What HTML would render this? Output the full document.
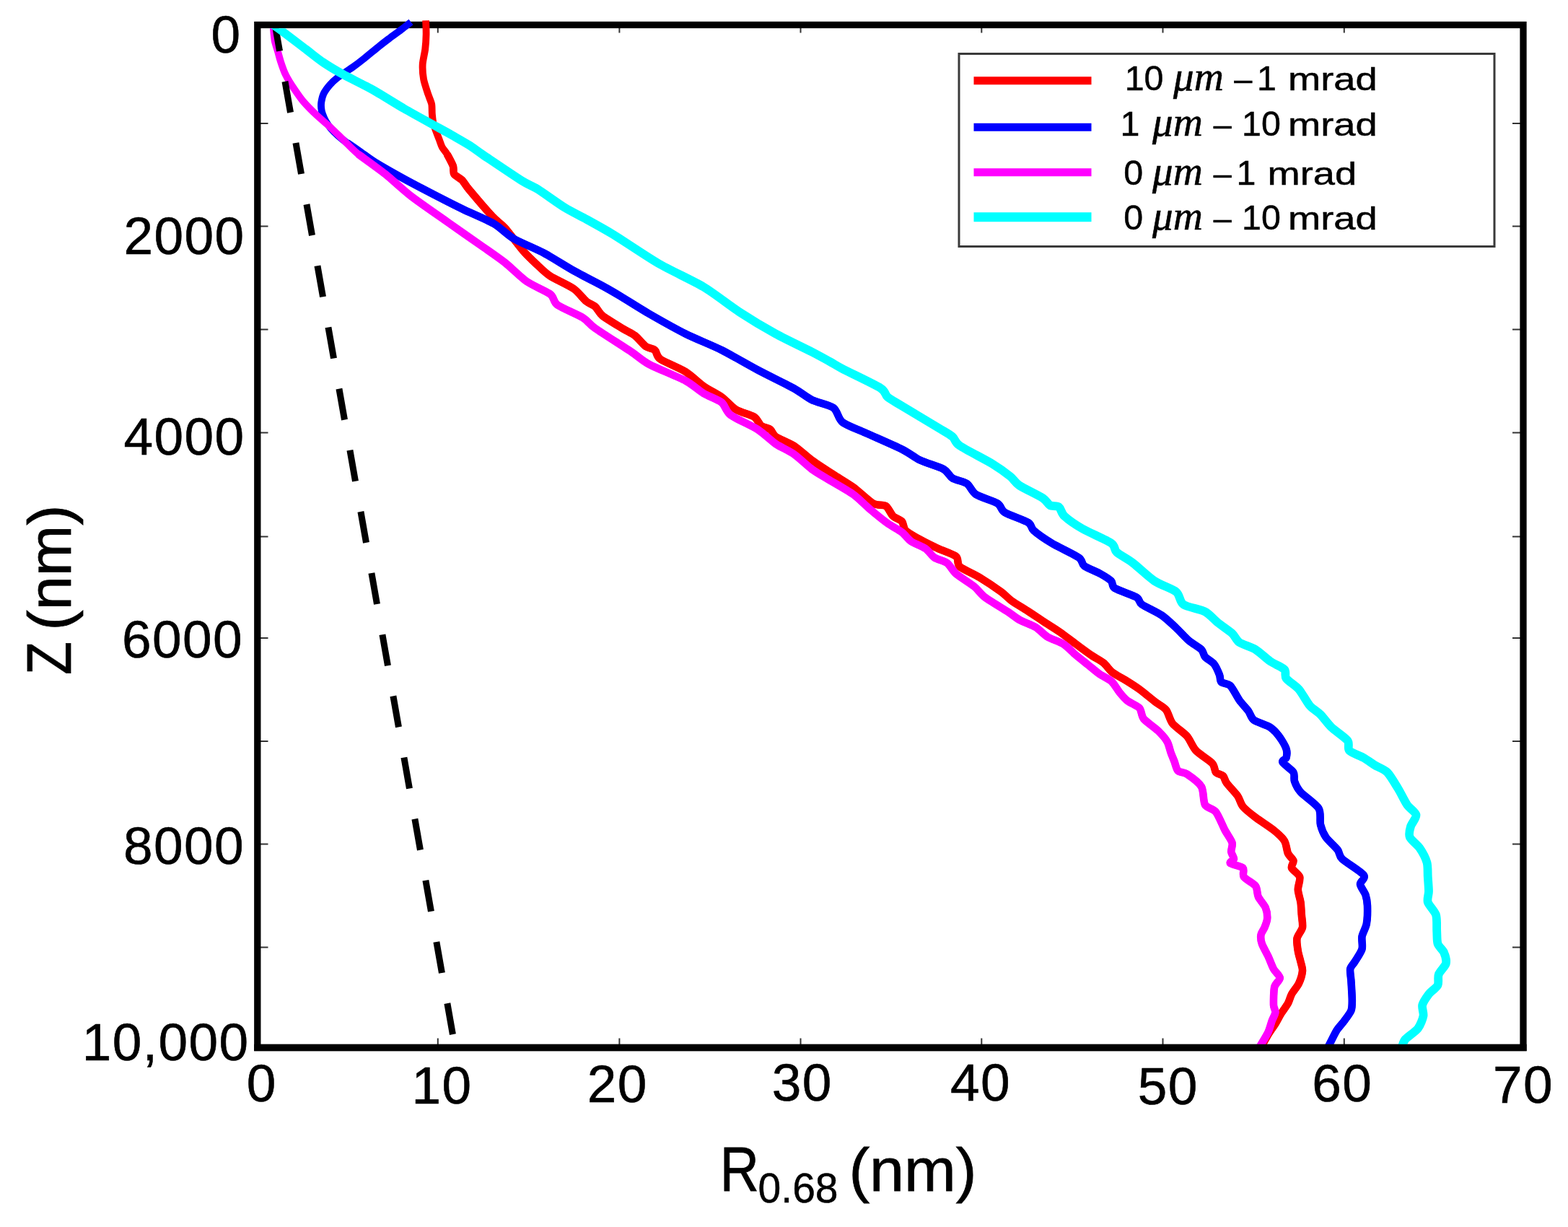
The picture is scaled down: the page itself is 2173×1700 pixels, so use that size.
<!DOCTYPE html>
<html lang="en">
<head>
<meta charset="utf-8">
<title>R0.68 versus Z</title>
<style>
html,body{margin:0;padding:0;background:#fff;}
body{width:2173px;height:1700px;overflow:hidden;}
svg{display:block;filter:blur(0.6px);}
text{font-family:"Liberation Sans",sans-serif;fill:#000;}
.tick{font-size:73px;letter-spacing:1.4px;stroke:#000;stroke-width:0.6px;}
.leg{font-size:48.4px;stroke:#000;stroke-width:0.5px;}
.mr{font-size:45px;stroke:#000;stroke-width:0.5px;}
.it{font-family:"Liberation Serif","DejaVu Serif",serif;font-style:italic;font-size:57px;stroke:#000;stroke-width:0.6px;}
.ttl{font-size:84px;stroke:#000;stroke-width:0.8px;}
.cap{font-size:87.5px;stroke:#000;stroke-width:0.8px;}
.sub{font-size:57px;stroke:#000;stroke-width:0.5px;}
.c{fill:none;stroke-linejoin:round;stroke-linecap:butt;}
</style>
</head>
<body>
<svg width="2173" height="1700" viewBox="0 0 2173 1700">
<rect x="0" y="0" width="2173" height="1700" fill="#ffffff"/>

<g stroke="#333" stroke-width="2" fill="none">
<line x1="361" y1="171" x2="371.5" y2="171"/>
<line x1="2096" y1="171" x2="2107" y2="171"/>
<line x1="361" y1="313.5" x2="371.5" y2="313.5"/>
<line x1="2096" y1="313.5" x2="2107" y2="313.5"/>
<line x1="361" y1="456.5" x2="371.5" y2="456.5"/>
<line x1="2096" y1="456.5" x2="2107" y2="456.5"/>
<line x1="361" y1="599.5" x2="371.5" y2="599.5"/>
<line x1="2096" y1="599.5" x2="2107" y2="599.5"/>
<line x1="361" y1="743.5" x2="371.5" y2="743.5"/>
<line x1="2096" y1="743.5" x2="2107" y2="743.5"/>
<line x1="361" y1="884" x2="371.5" y2="884"/>
<line x1="2096" y1="884" x2="2107" y2="884"/>
<line x1="361" y1="1027" x2="371.5" y2="1027"/>
<line x1="2096" y1="1027" x2="2107" y2="1027"/>
<line x1="361" y1="1169.5" x2="371.5" y2="1169.5"/>
<line x1="2096" y1="1169.5" x2="2107" y2="1169.5"/>
<line x1="361" y1="1312.5" x2="371.5" y2="1312.5"/>
<line x1="2096" y1="1312.5" x2="2107" y2="1312.5"/>
<line x1="606.8" y1="38" x2="606.8" y2="45.5"/>
<line x1="606.8" y1="1438.5" x2="606.8" y2="1447"/>
<line x1="858.4" y1="38" x2="858.4" y2="45.5"/>
<line x1="858.4" y1="1438.5" x2="858.4" y2="1447"/>
<line x1="1109.5" y1="38" x2="1109.5" y2="45.5"/>
<line x1="1109.5" y1="1438.5" x2="1109.5" y2="1447"/>
<line x1="1360.3" y1="38" x2="1360.3" y2="45.5"/>
<line x1="1360.3" y1="1438.5" x2="1360.3" y2="1447"/>
<line x1="1611.5" y1="38" x2="1611.5" y2="45.5"/>
<line x1="1611.5" y1="1438.5" x2="1611.5" y2="1447"/>
<line x1="1862.8" y1="38" x2="1862.8" y2="45.5"/>
<line x1="1862.8" y1="1438.5" x2="1862.8" y2="1447"/>
</g>
<clipPath id="cp"><rect x="357" y="25.5" width="1754" height="1426"/></clipPath>
<clipPath id="cp2"><rect x="357" y="39.2" width="1754" height="1412"/></clipPath>
<rect x="356.8" y="34.5" width="1754.2" height="1417" fill="none" stroke="#000" stroke-width="9.3"/>
<g clip-path="url(#cp)"><path class="c" stroke="#ff0000" stroke-width="9.8" d="M590.1 28.4C590.2 31.0 590.7 42.3 590.6 47.6C590.5 52.9 589.9 62.9 589.2 68.4C588.5 73.9 586.0 83.6 585.7 89.1C585.4 94.6 586.1 104.4 587.1 109.9C588.1 115.4 591.8 126.0 593.3 130.6C594.8 135.2 597.5 140.7 598.2 144.4C598.9 148.1 598.5 154.6 598.9 158.3C599.3 162.0 599.6 167.5 600.9 172.1C602.2 176.7 606.9 188.6 608.5 192.8C610.1 197.0 611.2 201.1 612.7 203.9C614.2 206.7 617.6 210.1 619.6 213.6C621.6 217.1 626.6 226.4 627.9 230.1C629.2 233.8 627.6 238.6 629.3 241.2C631.0 243.8 637.5 246.7 640.3 249.5C643.1 252.3 644.4 255.8 650.0 262.5C655.6 269.2 675.8 292.9 682.5 300.0C689.2 307.1 694.3 309.7 700.0 316.0C705.7 322.3 719.0 340.6 725.0 347.5C731.0 354.4 740.0 362.8 745.0 367.5C750.0 372.2 755.8 378.2 762.5 382.5C769.2 386.8 788.3 395.3 795.0 400.0C801.7 404.7 808.5 414.2 812.5 417.5C816.5 420.8 822.0 422.3 825.0 425.0C828.0 427.7 830.0 433.5 835.0 437.5C840.0 441.5 856.5 451.3 862.5 455.0C868.5 458.7 875.7 461.7 880.0 465.0C884.3 468.3 891.3 477.3 895.0 480.0C898.7 482.7 904.8 482.7 907.5 485.0C910.2 487.3 909.3 493.5 915.0 497.5C920.7 501.5 942.0 510.0 950.0 515.0C958.0 520.0 968.3 530.3 975.0 535.0C981.7 539.7 994.0 545.7 1000.0 550.0C1006.0 554.3 1014.0 563.8 1020.0 567.5C1026.0 571.2 1040.3 574.5 1045.0 577.5C1049.7 580.5 1052.0 587.7 1055.0 590.0C1058.0 592.3 1064.8 593.0 1067.5 595.0C1070.2 597.0 1070.7 602.0 1075.0 605.0C1079.3 608.0 1093.3 613.2 1100.0 617.5C1106.7 621.8 1117.7 632.2 1125.0 637.5C1132.3 642.8 1147.3 652.5 1155.0 657.5C1162.7 662.5 1175.2 669.7 1182.5 675.0C1189.8 680.3 1204.0 694.0 1210.0 697.5C1216.0 701.0 1223.8 698.7 1227.5 701.0C1231.2 703.3 1234.5 712.1 1237.5 715.0C1240.5 717.9 1247.7 719.8 1250.0 722.5C1252.3 725.2 1251.7 731.7 1255.0 735.0C1258.3 738.3 1269.0 744.2 1275.0 747.5C1281.0 750.8 1293.3 756.9 1300.0 760.0C1306.7 763.1 1321.0 767.7 1325.0 771.0C1329.0 774.3 1325.7 781.1 1330.0 785.0C1334.3 788.9 1349.8 795.3 1357.5 800.0C1365.2 804.7 1381.6 815.7 1387.5 820.0C1393.4 824.3 1397.1 829.0 1402.0 832.5C1406.9 836.0 1418.3 842.7 1424.2 846.5C1430.1 850.3 1440.1 857.1 1446.0 861.0C1451.9 864.9 1462.6 871.4 1468.5 875.5C1474.4 879.6 1484.7 887.7 1490.6 892.0C1496.5 896.3 1507.5 904.5 1512.7 908.0C1517.9 911.5 1525.5 915.3 1529.3 918.4C1533.1 921.5 1537.4 928.3 1541.5 931.5C1545.6 934.7 1555.0 939.4 1560.0 942.5C1565.0 945.6 1573.6 951.0 1579.1 955.0C1584.6 959.0 1596.3 968.8 1601.2 972.6C1606.1 976.4 1612.8 979.5 1616.0 983.5C1619.2 987.5 1621.1 997.6 1625.0 1002.5C1628.9 1007.4 1640.7 1015.0 1645.0 1020.0C1649.3 1025.0 1652.8 1035.0 1657.5 1040.0C1662.2 1045.0 1676.3 1053.5 1680.0 1057.5C1683.7 1061.5 1683.0 1067.7 1685.0 1070.0C1687.0 1072.3 1693.0 1073.0 1695.0 1075.0C1697.0 1077.0 1697.3 1081.3 1700.0 1085.0C1702.7 1088.7 1712.0 1098.2 1715.0 1102.5C1718.0 1106.8 1719.2 1113.5 1722.5 1117.5C1725.8 1121.5 1734.3 1128.2 1740.0 1132.5C1745.7 1136.8 1759.7 1145.7 1765.0 1150.0C1770.3 1154.3 1777.3 1160.7 1780.0 1165.0C1782.7 1169.3 1783.3 1178.8 1785.0 1182.5C1786.7 1186.2 1791.8 1189.8 1792.5 1192.5C1793.2 1195.2 1788.8 1199.5 1790.0 1202.5C1791.2 1205.5 1800.1 1211.0 1801.2 1215.0C1802.4 1219.0 1798.6 1227.8 1798.8 1232.5C1798.9 1237.2 1801.8 1245.3 1802.5 1250.0C1803.2 1254.7 1803.4 1262.8 1803.8 1267.5C1804.1 1272.2 1805.8 1280.7 1805.0 1285.0C1804.2 1289.3 1798.3 1295.7 1797.5 1300.0C1796.7 1304.3 1798.1 1313.2 1798.8 1317.5C1799.4 1321.8 1801.7 1328.8 1802.5 1332.5C1803.3 1336.2 1805.3 1341.0 1805.0 1345.0C1804.7 1349.0 1802.0 1358.2 1800.0 1362.5C1798.0 1366.8 1792.0 1373.8 1790.0 1377.5C1788.0 1381.2 1787.0 1386.3 1785.0 1390.0C1783.0 1393.7 1777.3 1401.3 1775.0 1405.0C1772.7 1408.7 1770.1 1414.0 1768.0 1417.5C1765.9 1421.0 1761.7 1426.7 1759.0 1431.0C1756.3 1435.3 1749.5 1447.5 1748.0 1450.0"/><path class="c" stroke="#ff0000" stroke-width="10.6" d="M619.6 213.6C620.7 215.8 626.6 226.4 627.9 230.1C629.2 233.8 627.6 238.6 629.3 241.2C631.0 243.8 637.5 246.7 640.3 249.5C643.1 252.3 644.4 255.8 650.0 262.5C655.6 269.2 675.8 292.9 682.5 300.0C689.2 307.1 694.3 309.7 700.0 316.0C705.7 322.3 719.0 340.6 725.0 347.5C731.0 354.4 740.0 362.8 745.0 367.5C750.0 372.2 755.8 378.2 762.5 382.5C769.2 386.8 788.3 395.3 795.0 400.0C801.7 404.7 808.5 414.2 812.5 417.5C816.5 420.8 822.0 422.3 825.0 425.0C828.0 427.7 830.0 433.5 835.0 437.5C840.0 441.5 856.5 451.3 862.5 455.0C868.5 458.7 875.7 461.7 880.0 465.0C884.3 468.3 891.3 477.3 895.0 480.0C898.7 482.7 904.8 482.7 907.5 485.0C910.2 487.3 909.3 493.5 915.0 497.5C920.7 501.5 942.0 510.0 950.0 515.0C958.0 520.0 968.3 530.3 975.0 535.0C981.7 539.7 994.0 545.7 1000.0 550.0C1006.0 554.3 1014.0 563.8 1020.0 567.5C1026.0 571.2 1040.3 574.5 1045.0 577.5C1049.7 580.5 1052.0 587.7 1055.0 590.0C1058.0 592.3 1064.8 593.0 1067.5 595.0C1070.2 597.0 1070.7 602.0 1075.0 605.0C1079.3 608.0 1093.3 613.2 1100.0 617.5C1106.7 621.8 1117.7 632.2 1125.0 637.5C1132.3 642.8 1147.3 652.5 1155.0 657.5C1162.7 662.5 1175.2 669.7 1182.5 675.0C1189.8 680.3 1204.0 694.0 1210.0 697.5C1216.0 701.0 1223.8 698.7 1227.5 701.0C1231.2 703.3 1234.5 712.1 1237.5 715.0C1240.5 717.9 1247.7 719.8 1250.0 722.5C1252.3 725.2 1251.7 731.7 1255.0 735.0C1258.3 738.3 1269.0 744.2 1275.0 747.5C1281.0 750.8 1293.3 756.9 1300.0 760.0C1306.7 763.1 1321.0 767.7 1325.0 771.0C1329.0 774.3 1325.7 781.1 1330.0 785.0C1334.3 788.9 1349.8 795.3 1357.5 800.0C1365.2 804.7 1381.6 815.7 1387.5 820.0C1393.4 824.3 1397.1 829.0 1402.0 832.5C1406.9 836.0 1418.3 842.7 1424.2 846.5C1430.1 850.3 1440.1 857.1 1446.0 861.0C1451.9 864.9 1462.6 871.4 1468.5 875.5C1474.4 879.6 1484.7 887.7 1490.6 892.0C1496.5 896.3 1507.5 904.5 1512.7 908.0C1517.9 911.5 1525.5 915.3 1529.3 918.4C1533.1 921.5 1537.4 928.3 1541.5 931.5C1545.6 934.7 1555.0 939.4 1560.0 942.5C1565.0 945.6 1573.6 951.0 1579.1 955.0C1584.6 959.0 1596.3 968.8 1601.2 972.6C1606.1 976.4 1612.8 979.5 1616.0 983.5C1619.2 987.5 1621.1 997.6 1625.0 1002.5C1628.9 1007.4 1640.7 1015.0 1645.0 1020.0C1649.3 1025.0 1652.8 1035.0 1657.5 1040.0C1662.2 1045.0 1676.3 1053.5 1680.0 1057.5C1683.7 1061.5 1683.0 1067.7 1685.0 1070.0C1687.0 1072.3 1693.0 1073.0 1695.0 1075.0C1697.0 1077.0 1697.3 1081.3 1700.0 1085.0C1702.7 1088.7 1712.0 1098.2 1715.0 1102.5C1718.0 1106.8 1719.2 1113.5 1722.5 1117.5C1725.8 1121.5 1734.3 1128.2 1740.0 1132.5C1745.7 1136.8 1759.7 1145.7 1765.0 1150.0C1770.3 1154.3 1777.3 1160.7 1780.0 1165.0C1782.7 1169.3 1783.3 1178.8 1785.0 1182.5C1786.7 1186.2 1791.8 1189.8 1792.5 1192.5C1793.2 1195.2 1788.8 1199.5 1790.0 1202.5C1791.2 1205.5 1800.1 1211.0 1801.2 1215.0C1802.4 1219.0 1798.6 1227.8 1798.8 1232.5C1798.9 1237.2 1801.8 1245.3 1802.5 1250.0C1803.2 1254.7 1803.4 1262.8 1803.8 1267.5C1804.1 1272.2 1805.8 1280.7 1805.0 1285.0C1804.2 1289.3 1798.3 1295.7 1797.5 1300.0C1796.7 1304.3 1798.1 1313.2 1798.8 1317.5C1799.4 1321.8 1801.7 1328.8 1802.5 1332.5C1803.3 1336.2 1805.3 1341.0 1805.0 1345.0C1804.7 1349.0 1802.0 1358.2 1800.0 1362.5C1798.0 1366.8 1792.0 1373.8 1790.0 1377.5C1788.0 1381.2 1787.0 1386.3 1785.0 1390.0C1783.0 1393.7 1777.3 1401.3 1775.0 1405.0C1772.7 1408.7 1770.1 1414.0 1768.0 1417.5C1765.9 1421.0 1761.7 1426.7 1759.0 1431.0C1756.3 1435.3 1749.5 1447.5 1748.0 1450.0"/></g>
<g clip-path="url(#cp)"><path class="c" stroke="#0000ff" stroke-width="9.8" d="M569.5 30.5C568.0 31.7 561.9 36.6 558.0 39.6C554.1 42.6 544.1 49.7 540.0 52.8C535.9 55.9 531.9 58.9 527.0 62.8C522.1 66.7 508.5 78.0 503.5 82.0C498.5 86.0 493.9 89.5 489.3 92.8C484.7 96.1 473.3 103.3 469.0 106.6C464.7 109.9 459.7 114.6 457.0 117.7C454.3 120.8 450.1 126.6 448.6 129.7C447.1 132.8 445.9 138.1 445.4 140.8C444.9 143.5 445.0 147.8 445.2 150.0C445.4 152.2 446.0 155.0 446.8 157.4C447.6 159.8 449.9 165.3 451.5 168.0C453.1 170.7 456.2 175.3 458.5 178.0C460.8 180.7 465.5 185.3 468.5 188.0C471.5 190.7 476.8 194.9 481.0 198.0C485.2 201.1 494.8 207.4 500.0 211.0C505.2 214.6 512.0 220.1 520.0 225.0C528.0 229.9 547.3 240.9 560.0 247.8C572.7 254.7 604.2 271.1 615.3 276.8C626.4 282.5 633.8 286.2 643.0 290.6C652.2 295.0 675.3 304.7 684.5 310.0C693.7 315.3 702.8 325.3 712.0 330.7C721.2 336.1 742.5 344.6 753.6 350.5C764.7 356.4 783.9 368.8 795.0 375.0C806.1 381.2 827.9 392.3 836.6 397.0C845.3 401.7 851.5 405.4 860.0 410.5C868.5 415.6 888.0 428.1 900.0 435.0C912.0 441.9 936.7 455.8 950.0 462.5C963.3 469.2 986.7 478.3 1000.0 485.0C1013.3 491.7 1036.7 505.4 1050.0 512.5C1063.3 519.6 1090.0 532.5 1100.0 538.0C1110.0 543.5 1117.7 550.4 1125.0 554.0C1132.3 557.6 1149.3 560.9 1155.0 565.0C1160.7 569.1 1161.5 580.3 1167.5 585.0C1173.5 589.7 1189.0 595.0 1200.0 600.0C1211.0 605.0 1240.0 617.5 1250.0 622.5C1260.0 627.5 1267.3 633.8 1275.0 637.5C1282.7 641.2 1301.5 646.7 1307.5 650.0C1313.5 653.3 1315.7 659.8 1320.0 662.5C1324.3 665.2 1335.7 667.0 1340.0 670.0C1344.3 673.0 1346.8 681.3 1352.5 685.0C1358.2 688.7 1377.2 694.2 1382.5 697.5C1387.8 700.8 1386.8 706.5 1392.5 710.0C1398.2 713.5 1419.7 720.7 1425.0 724.0C1430.3 727.3 1428.2 731.2 1432.5 735.0C1436.8 738.8 1449.2 747.5 1457.5 752.5C1465.8 757.5 1489.0 768.3 1495.0 772.5C1501.0 776.7 1498.5 781.0 1502.5 784.0C1506.5 787.0 1520.0 792.2 1525.0 795.0C1530.0 797.8 1537.3 802.3 1540.0 805.0C1542.7 807.7 1540.3 812.0 1545.0 815.0C1549.7 818.0 1570.0 824.5 1575.0 827.5C1580.0 830.5 1577.8 834.2 1582.5 837.5C1587.2 840.8 1603.7 848.2 1610.0 852.5C1616.3 856.8 1625.0 865.3 1630.0 870.0C1635.0 874.7 1642.8 883.5 1647.5 887.5C1652.2 891.5 1662.0 897.0 1665.0 900.0C1668.0 903.0 1667.7 907.3 1670.0 910.0C1672.3 912.7 1679.8 916.7 1682.5 920.0C1685.2 923.3 1688.7 931.7 1690.0 935.0C1691.3 938.3 1690.5 943.0 1692.5 945.0C1694.5 947.0 1701.7 946.7 1705.0 950.0C1708.3 953.3 1714.2 965.3 1717.5 970.0C1720.8 974.7 1727.3 981.3 1730.0 985.0C1732.7 988.7 1733.5 994.5 1737.5 997.5C1741.5 1000.5 1755.3 1004.5 1760.0 1007.5C1764.7 1010.5 1769.5 1016.0 1772.5 1020.0C1775.5 1024.0 1781.2 1033.5 1782.5 1037.5C1783.8 1041.5 1783.2 1047.5 1782.5 1050.0C1781.8 1052.5 1776.2 1053.3 1777.5 1056.0C1778.8 1058.7 1790.3 1066.5 1792.5 1070.0C1794.7 1073.5 1792.7 1078.8 1794.0 1082.5C1795.3 1086.2 1798.0 1092.5 1802.5 1097.5C1807.0 1102.5 1823.8 1114.0 1827.5 1120.0C1831.2 1126.0 1828.7 1137.2 1830.0 1142.5C1831.3 1147.8 1834.3 1155.3 1837.5 1160.0C1840.7 1164.7 1850.8 1173.5 1853.8 1177.5C1856.8 1181.5 1855.2 1185.3 1860.0 1190.0C1864.8 1194.7 1886.7 1207.8 1890.0 1212.5C1893.3 1217.2 1884.7 1221.3 1885.0 1225.0C1885.3 1228.7 1891.2 1236.0 1892.5 1240.0C1893.8 1244.0 1894.8 1249.7 1895.0 1255.0C1895.2 1260.3 1894.8 1274.3 1893.8 1280.0C1892.8 1285.7 1888.3 1292.8 1887.5 1297.5C1886.7 1302.2 1888.8 1310.3 1887.5 1315.0C1886.2 1319.7 1879.7 1328.8 1877.5 1332.5C1875.3 1336.2 1871.9 1338.8 1871.2 1342.5C1870.6 1346.2 1872.2 1354.3 1872.5 1360.0C1872.8 1365.7 1873.8 1379.7 1873.8 1385.0C1873.8 1390.3 1874.0 1396.0 1872.5 1400.0C1871.0 1404.0 1865.2 1411.3 1862.5 1415.0C1859.8 1418.7 1855.4 1422.8 1852.5 1427.5C1849.6 1432.2 1842.5 1447.0 1841.0 1450.0"/><path class="c" stroke="#0000ff" stroke-width="10.6" d="M481.0 198.0C483.5 199.7 494.8 207.4 500.0 211.0C505.2 214.6 512.0 220.1 520.0 225.0C528.0 229.9 547.3 240.9 560.0 247.8C572.7 254.7 604.2 271.1 615.3 276.8C626.4 282.5 633.8 286.2 643.0 290.6C652.2 295.0 675.3 304.7 684.5 310.0C693.7 315.3 702.8 325.3 712.0 330.7C721.2 336.1 742.5 344.6 753.6 350.5C764.7 356.4 783.9 368.8 795.0 375.0C806.1 381.2 827.9 392.3 836.6 397.0C845.3 401.7 851.5 405.4 860.0 410.5C868.5 415.6 888.0 428.1 900.0 435.0C912.0 441.9 936.7 455.8 950.0 462.5C963.3 469.2 986.7 478.3 1000.0 485.0C1013.3 491.7 1036.7 505.4 1050.0 512.5C1063.3 519.6 1090.0 532.5 1100.0 538.0C1110.0 543.5 1117.7 550.4 1125.0 554.0C1132.3 557.6 1149.3 560.9 1155.0 565.0C1160.7 569.1 1161.5 580.3 1167.5 585.0C1173.5 589.7 1189.0 595.0 1200.0 600.0C1211.0 605.0 1240.0 617.5 1250.0 622.5C1260.0 627.5 1267.3 633.8 1275.0 637.5C1282.7 641.2 1301.5 646.7 1307.5 650.0C1313.5 653.3 1315.7 659.8 1320.0 662.5C1324.3 665.2 1335.7 667.0 1340.0 670.0C1344.3 673.0 1346.8 681.3 1352.5 685.0C1358.2 688.7 1377.2 694.2 1382.5 697.5C1387.8 700.8 1386.8 706.5 1392.5 710.0C1398.2 713.5 1419.7 720.7 1425.0 724.0C1430.3 727.3 1428.2 731.2 1432.5 735.0C1436.8 738.8 1449.2 747.5 1457.5 752.5C1465.8 757.5 1489.0 768.3 1495.0 772.5C1501.0 776.7 1498.5 781.0 1502.5 784.0C1506.5 787.0 1520.0 792.2 1525.0 795.0C1530.0 797.8 1537.3 802.3 1540.0 805.0C1542.7 807.7 1540.3 812.0 1545.0 815.0C1549.7 818.0 1570.0 824.5 1575.0 827.5C1580.0 830.5 1577.8 834.2 1582.5 837.5C1587.2 840.8 1603.7 848.2 1610.0 852.5C1616.3 856.8 1625.0 865.3 1630.0 870.0C1635.0 874.7 1642.8 883.5 1647.5 887.5C1652.2 891.5 1662.0 897.0 1665.0 900.0C1668.0 903.0 1667.7 907.3 1670.0 910.0C1672.3 912.7 1679.8 916.7 1682.5 920.0C1685.2 923.3 1688.7 931.7 1690.0 935.0C1691.3 938.3 1690.5 943.0 1692.5 945.0C1694.5 947.0 1701.7 946.7 1705.0 950.0C1708.3 953.3 1714.2 965.3 1717.5 970.0C1720.8 974.7 1727.3 981.3 1730.0 985.0C1732.7 988.7 1733.5 994.5 1737.5 997.5C1741.5 1000.5 1755.3 1004.5 1760.0 1007.5C1764.7 1010.5 1769.5 1016.0 1772.5 1020.0C1775.5 1024.0 1781.2 1033.5 1782.5 1037.5C1783.8 1041.5 1783.2 1047.5 1782.5 1050.0C1781.8 1052.5 1776.2 1053.3 1777.5 1056.0C1778.8 1058.7 1790.3 1066.5 1792.5 1070.0C1794.7 1073.5 1792.7 1078.8 1794.0 1082.5C1795.3 1086.2 1798.0 1092.5 1802.5 1097.5C1807.0 1102.5 1823.8 1114.0 1827.5 1120.0C1831.2 1126.0 1828.7 1137.2 1830.0 1142.5C1831.3 1147.8 1834.3 1155.3 1837.5 1160.0C1840.7 1164.7 1850.8 1173.5 1853.8 1177.5C1856.8 1181.5 1855.2 1185.3 1860.0 1190.0C1864.8 1194.7 1886.7 1207.8 1890.0 1212.5C1893.3 1217.2 1884.7 1221.3 1885.0 1225.0C1885.3 1228.7 1891.2 1236.0 1892.5 1240.0C1893.8 1244.0 1894.8 1249.7 1895.0 1255.0C1895.2 1260.3 1894.8 1274.3 1893.8 1280.0C1892.8 1285.7 1888.3 1292.8 1887.5 1297.5C1886.7 1302.2 1888.8 1310.3 1887.5 1315.0C1886.2 1319.7 1879.7 1328.8 1877.5 1332.5C1875.3 1336.2 1871.9 1338.8 1871.2 1342.5C1870.6 1346.2 1872.2 1354.3 1872.5 1360.0C1872.8 1365.7 1873.8 1379.7 1873.8 1385.0C1873.8 1390.3 1874.0 1396.0 1872.5 1400.0C1871.0 1404.0 1865.2 1411.3 1862.5 1415.0C1859.8 1418.7 1855.4 1422.8 1852.5 1427.5C1849.6 1432.2 1842.5 1447.0 1841.0 1450.0"/></g>
<g clip-path="url(#cp2)"><path class="c" stroke="#ff00ff" stroke-width="9.8" d="M378.6 28.0C378.6 29.5 378.6 35.7 378.9 39.4C379.2 43.1 379.8 51.7 380.6 56.0C381.4 60.3 384.1 68.1 385.2 72.0C386.3 75.9 387.6 81.1 389.0 85.4C390.4 89.7 393.6 99.0 396.0 103.9C398.4 108.8 403.8 117.4 407.1 122.3C410.4 127.2 416.3 135.9 420.5 140.8C424.7 145.7 433.3 154.4 438.5 159.3C443.7 164.2 454.2 172.9 459.3 177.7C464.4 182.5 472.0 190.2 477.0 195.0C482.0 199.8 488.9 207.4 496.5 213.6C504.1 219.8 524.1 233.4 533.9 241.2C543.7 249.0 558.5 263.2 570.0 272.0C581.5 280.8 606.7 298.1 620.0 307.5C633.3 316.9 659.3 335.0 670.0 342.5C680.7 350.0 692.0 357.7 700.0 364.0C708.0 370.3 721.7 384.2 730.0 390.0C738.3 395.8 756.8 403.2 762.5 407.5C768.2 411.8 766.5 418.2 772.5 422.5C778.5 426.8 800.5 435.7 807.5 440.0C814.5 444.3 816.0 448.7 825.0 455.0C834.0 461.3 865.0 480.8 875.0 487.5C885.0 494.2 890.0 499.7 900.0 505.0C910.0 510.3 940.0 522.2 950.0 527.5C960.0 532.8 968.3 541.0 975.0 545.0C981.7 549.0 995.0 553.5 1000.0 557.5C1005.0 561.5 1005.8 570.0 1012.5 575.0C1019.2 580.0 1041.7 589.7 1050.0 595.0C1058.3 600.3 1068.3 610.5 1075.0 615.0C1081.7 619.5 1093.3 624.3 1100.0 629.0C1106.7 633.7 1119.0 645.5 1125.0 650.0C1131.0 654.5 1137.3 657.8 1145.0 662.5C1152.7 667.2 1174.5 679.3 1182.5 685.0C1190.5 690.7 1198.7 699.7 1205.0 705.0C1211.3 710.3 1224.0 720.7 1230.0 725.0C1236.0 729.3 1245.7 734.2 1250.0 737.5C1254.3 740.8 1258.2 747.0 1262.5 750.0C1266.8 753.0 1278.2 757.0 1282.5 760.0C1286.8 763.0 1291.0 769.8 1295.0 772.5C1299.0 775.2 1308.5 777.0 1312.5 780.0C1316.5 783.0 1320.0 790.7 1325.0 795.0C1330.0 799.3 1344.7 808.2 1350.0 812.5C1355.3 816.8 1358.8 822.8 1365.0 827.5C1371.2 832.2 1390.2 843.3 1396.6 847.5C1403.0 851.7 1408.0 856.1 1413.2 859.0C1418.4 861.9 1430.1 865.9 1435.3 869.0C1440.5 872.1 1446.7 879.4 1451.9 882.5C1457.1 885.6 1468.8 889.2 1474.0 892.5C1479.2 895.8 1486.2 903.6 1490.6 907.3C1495.0 911.0 1502.8 917.1 1507.2 920.6C1511.6 924.1 1519.4 930.8 1523.8 933.9C1528.2 937.0 1536.7 940.6 1540.4 944.0C1544.1 947.4 1548.6 955.7 1551.5 959.3C1554.4 962.9 1558.8 968.1 1562.5 971.0C1566.2 973.9 1576.1 977.7 1579.1 981.0C1582.1 984.3 1581.5 991.8 1585.0 996.0C1588.5 1000.2 1600.7 1008.3 1605.0 1012.5C1609.3 1016.7 1615.2 1023.5 1617.5 1027.5C1619.8 1031.5 1621.2 1038.8 1622.5 1042.5C1623.8 1046.2 1626.2 1051.6 1627.5 1055.0C1628.8 1058.4 1630.2 1065.7 1632.5 1068.0C1634.8 1070.3 1640.7 1069.6 1645.0 1072.5C1649.3 1075.4 1661.7 1084.3 1665.0 1090.0C1668.3 1095.7 1667.3 1110.3 1670.0 1115.0C1672.7 1119.7 1681.3 1120.3 1685.0 1125.0C1688.7 1129.7 1694.5 1144.3 1697.5 1150.0C1700.5 1155.7 1706.3 1163.5 1707.5 1167.5C1708.7 1171.5 1705.9 1177.0 1706.2 1180.0C1706.6 1183.0 1710.2 1187.9 1710.0 1190.0C1709.8 1192.1 1703.3 1194.3 1705.0 1196.0C1706.7 1197.7 1720.0 1200.0 1722.5 1202.5C1725.0 1205.0 1721.4 1211.7 1723.8 1215.0C1726.1 1218.3 1737.3 1223.8 1740.0 1227.5C1742.7 1231.2 1741.9 1238.5 1743.8 1242.5C1745.6 1246.5 1752.1 1253.5 1753.8 1257.5C1755.4 1261.5 1756.4 1268.8 1756.2 1272.5C1756.1 1276.2 1753.7 1282.0 1752.5 1285.0C1751.3 1288.0 1748.0 1292.0 1747.5 1295.0C1747.0 1298.0 1747.4 1303.5 1748.8 1307.5C1750.1 1311.5 1755.3 1320.3 1757.5 1325.0C1759.7 1329.7 1762.8 1338.5 1765.0 1342.5C1767.2 1346.5 1773.6 1351.7 1773.8 1355.0C1773.9 1358.3 1767.4 1362.5 1766.2 1367.5C1765.1 1372.5 1764.8 1387.8 1765.0 1392.5C1765.2 1397.2 1767.8 1399.5 1767.5 1402.5C1767.2 1405.5 1763.8 1411.3 1762.5 1415.0C1761.2 1418.7 1759.7 1425.3 1757.5 1430.0C1755.3 1434.7 1747.5 1447.3 1746.0 1450.0"/><path class="c" stroke="#ff00ff" stroke-width="10.6" d="M496.5 213.6C501.5 217.3 524.1 233.4 533.9 241.2C543.7 249.0 558.5 263.2 570.0 272.0C581.5 280.8 606.7 298.1 620.0 307.5C633.3 316.9 659.3 335.0 670.0 342.5C680.7 350.0 692.0 357.7 700.0 364.0C708.0 370.3 721.7 384.2 730.0 390.0C738.3 395.8 756.8 403.2 762.5 407.5C768.2 411.8 766.5 418.2 772.5 422.5C778.5 426.8 800.5 435.7 807.5 440.0C814.5 444.3 816.0 448.7 825.0 455.0C834.0 461.3 865.0 480.8 875.0 487.5C885.0 494.2 890.0 499.7 900.0 505.0C910.0 510.3 940.0 522.2 950.0 527.5C960.0 532.8 968.3 541.0 975.0 545.0C981.7 549.0 995.0 553.5 1000.0 557.5C1005.0 561.5 1005.8 570.0 1012.5 575.0C1019.2 580.0 1041.7 589.7 1050.0 595.0C1058.3 600.3 1068.3 610.5 1075.0 615.0C1081.7 619.5 1093.3 624.3 1100.0 629.0C1106.7 633.7 1119.0 645.5 1125.0 650.0C1131.0 654.5 1137.3 657.8 1145.0 662.5C1152.7 667.2 1174.5 679.3 1182.5 685.0C1190.5 690.7 1198.7 699.7 1205.0 705.0C1211.3 710.3 1224.0 720.7 1230.0 725.0C1236.0 729.3 1245.7 734.2 1250.0 737.5C1254.3 740.8 1258.2 747.0 1262.5 750.0C1266.8 753.0 1278.2 757.0 1282.5 760.0C1286.8 763.0 1291.0 769.8 1295.0 772.5C1299.0 775.2 1308.5 777.0 1312.5 780.0C1316.5 783.0 1320.0 790.7 1325.0 795.0C1330.0 799.3 1344.7 808.2 1350.0 812.5C1355.3 816.8 1358.8 822.8 1365.0 827.5C1371.2 832.2 1390.2 843.3 1396.6 847.5C1403.0 851.7 1408.0 856.1 1413.2 859.0C1418.4 861.9 1430.1 865.9 1435.3 869.0C1440.5 872.1 1446.7 879.4 1451.9 882.5C1457.1 885.6 1468.8 889.2 1474.0 892.5C1479.2 895.8 1486.2 903.6 1490.6 907.3C1495.0 911.0 1502.8 917.1 1507.2 920.6C1511.6 924.1 1519.4 930.8 1523.8 933.9C1528.2 937.0 1536.7 940.6 1540.4 944.0C1544.1 947.4 1548.6 955.7 1551.5 959.3C1554.4 962.9 1558.8 968.1 1562.5 971.0C1566.2 973.9 1576.1 977.7 1579.1 981.0C1582.1 984.3 1581.5 991.8 1585.0 996.0C1588.5 1000.2 1600.7 1008.3 1605.0 1012.5C1609.3 1016.7 1615.2 1023.5 1617.5 1027.5C1619.8 1031.5 1621.2 1038.8 1622.5 1042.5C1623.8 1046.2 1626.2 1051.6 1627.5 1055.0C1628.8 1058.4 1630.2 1065.7 1632.5 1068.0C1634.8 1070.3 1640.7 1069.6 1645.0 1072.5C1649.3 1075.4 1661.7 1084.3 1665.0 1090.0C1668.3 1095.7 1667.3 1110.3 1670.0 1115.0C1672.7 1119.7 1681.3 1120.3 1685.0 1125.0C1688.7 1129.7 1694.5 1144.3 1697.5 1150.0C1700.5 1155.7 1706.3 1163.5 1707.5 1167.5C1708.7 1171.5 1705.9 1177.0 1706.2 1180.0C1706.6 1183.0 1710.2 1187.9 1710.0 1190.0C1709.8 1192.1 1703.3 1194.3 1705.0 1196.0C1706.7 1197.7 1720.0 1200.0 1722.5 1202.5C1725.0 1205.0 1721.4 1211.7 1723.8 1215.0C1726.1 1218.3 1737.3 1223.8 1740.0 1227.5C1742.7 1231.2 1741.9 1238.5 1743.8 1242.5C1745.6 1246.5 1752.1 1253.5 1753.8 1257.5C1755.4 1261.5 1756.4 1268.8 1756.2 1272.5C1756.1 1276.2 1753.7 1282.0 1752.5 1285.0C1751.3 1288.0 1748.0 1292.0 1747.5 1295.0C1747.0 1298.0 1747.4 1303.5 1748.8 1307.5C1750.1 1311.5 1755.3 1320.3 1757.5 1325.0C1759.7 1329.7 1762.8 1338.5 1765.0 1342.5C1767.2 1346.5 1773.6 1351.7 1773.8 1355.0C1773.9 1358.3 1767.4 1362.5 1766.2 1367.5C1765.1 1372.5 1764.8 1387.8 1765.0 1392.5C1765.2 1397.2 1767.8 1399.5 1767.5 1402.5C1767.2 1405.5 1763.8 1411.3 1762.5 1415.0C1761.2 1418.7 1759.7 1425.3 1757.5 1430.0C1755.3 1434.7 1747.5 1447.3 1746.0 1450.0"/></g>
<g clip-path="url(#cp2)"><line class="c" x1="379.97" y1="27.7" x2="631.47" y2="1456" stroke="#000" stroke-width="9" stroke-dasharray="43.66 42.8"/></g>
<g clip-path="url(#cp2)"><path class="c" stroke="#00ffff" stroke-width="11.8" d="M371.5 29.5C373.4 30.8 378.9 34.4 386.0 39.6C393.1 44.8 416.3 62.5 424.6 68.8C432.9 75.1 441.2 81.9 448.0 86.5C454.8 91.1 466.3 98.0 475.4 103.0C484.5 108.0 504.6 117.7 515.9 124.0C527.2 130.3 548.9 144.1 560.0 150.5C571.1 156.9 590.0 167.2 598.9 172.1C607.8 177.0 619.7 183.4 626.5 187.3C633.3 191.2 644.2 197.3 650.0 201.0C655.8 204.7 660.3 208.5 670.0 215.0C679.7 221.5 712.5 243.7 722.5 250.0C732.5 256.3 737.0 257.0 745.0 262.0C753.0 267.0 773.4 281.9 782.5 287.5C791.6 293.1 804.0 299.0 813.0 304.0C822.0 309.0 836.7 316.9 850.0 325.0C863.3 333.1 895.8 355.3 912.5 365.0C929.2 374.7 960.0 388.5 975.0 397.5C990.0 406.5 1011.7 423.8 1025.0 432.5C1038.3 441.2 1061.7 455.2 1075.0 462.5C1088.3 469.8 1115.0 482.4 1125.0 487.5C1135.0 492.6 1144.3 497.9 1150.0 501.0C1155.7 504.1 1158.2 506.1 1167.5 511.0C1176.8 515.9 1211.7 532.3 1220.0 537.5C1228.3 542.7 1226.0 546.7 1230.0 550.0C1234.0 553.3 1240.7 556.8 1250.0 562.5C1259.3 568.2 1290.7 586.8 1300.0 592.5C1309.3 598.2 1316.0 601.7 1320.0 605.0C1324.0 608.3 1322.7 612.5 1330.0 617.5C1337.3 622.5 1365.7 636.8 1375.0 642.5C1384.3 648.2 1395.0 656.0 1400.0 660.0C1405.0 664.0 1406.5 668.5 1412.5 672.5C1418.5 676.5 1439.3 686.3 1445.0 690.0C1450.7 693.7 1452.0 698.3 1455.0 700.0C1458.0 701.7 1464.8 700.5 1467.5 702.5C1470.2 704.5 1470.7 711.0 1475.0 715.0C1479.3 719.0 1491.3 727.5 1500.0 732.5C1508.7 737.5 1533.7 748.2 1540.0 752.5C1546.3 756.8 1543.5 761.3 1547.5 765.0C1551.5 768.7 1563.0 774.7 1570.0 780.0C1577.0 785.3 1592.0 799.7 1600.0 805.0C1608.0 810.3 1624.7 815.7 1630.0 820.0C1635.3 824.3 1634.7 833.8 1640.0 837.5C1645.3 841.2 1663.7 844.2 1670.0 847.5C1676.3 850.8 1682.5 858.5 1687.5 862.5C1692.5 866.5 1703.5 873.8 1707.5 877.5C1711.5 881.2 1713.2 887.0 1717.5 890.0C1721.8 893.0 1734.3 896.5 1740.0 900.0C1745.7 903.5 1754.7 912.3 1760.0 916.0C1765.3 919.7 1777.0 924.3 1780.0 927.5C1783.0 930.7 1779.8 936.3 1782.5 940.0C1785.2 943.7 1795.7 950.0 1800.0 955.0C1804.3 960.0 1811.0 972.8 1815.0 977.5C1819.0 982.2 1826.0 986.0 1830.0 990.0C1834.0 994.0 1840.0 1002.7 1845.0 1007.5C1850.0 1012.3 1864.2 1021.7 1867.5 1026.0C1870.8 1030.3 1867.0 1036.8 1870.0 1040.0C1873.0 1043.2 1885.3 1047.3 1890.0 1050.0C1894.7 1052.7 1900.7 1057.3 1905.0 1060.0C1909.3 1062.7 1918.2 1065.7 1922.5 1070.0C1926.8 1074.3 1933.8 1086.5 1937.5 1092.5C1941.2 1098.5 1946.7 1110.1 1950.0 1115.0C1953.3 1119.9 1961.8 1125.0 1962.5 1129.0C1963.2 1133.0 1956.2 1140.9 1955.0 1145.0C1953.8 1149.1 1952.1 1156.0 1953.8 1160.0C1955.4 1164.0 1964.3 1170.3 1967.5 1175.0C1970.7 1179.7 1976.0 1189.7 1977.5 1195.0C1979.0 1200.3 1978.4 1209.7 1978.8 1215.0C1979.1 1220.3 1980.0 1230.3 1980.0 1235.0C1980.0 1239.7 1977.4 1245.7 1978.8 1250.0C1980.1 1254.3 1988.3 1262.2 1990.0 1267.5C1991.7 1272.8 1990.9 1284.7 1991.2 1290.0C1991.6 1295.3 1991.2 1303.5 1992.5 1307.5C1993.8 1311.5 1999.8 1316.3 2001.2 1320.0C2002.8 1323.7 2004.8 1331.0 2003.8 1335.0C2002.8 1339.0 1995.2 1346.0 1993.8 1350.0C1992.2 1354.0 1994.3 1361.3 1992.5 1365.0C1990.7 1368.7 1982.8 1373.8 1980.0 1377.5C1977.2 1381.2 1972.2 1388.5 1971.2 1392.5C1970.2 1396.5 1973.3 1403.2 1972.5 1407.5C1971.7 1411.8 1968.3 1420.7 1965.0 1425.0C1961.7 1429.3 1950.4 1436.7 1947.5 1440.0C1944.6 1443.3 1943.6 1448.7 1943.0 1450.0"/></g>
<path d="M352.15 1451.5H2115.65" fill="none" stroke="#000" stroke-width="9.3"/>
<rect x="1329" y="74.5" width="742" height="267" fill="#fff" stroke="#3a3a3a" stroke-width="3"/>
<line x1="1349.5" y1="111.75" x2="1512.5" y2="111.75" stroke="#ff0000" stroke-width="11"/>
<text class="leg" x="1585.6" y="125.2" text-anchor="middle">10</text>
<text class="it" x="1661.0" y="125.2" text-anchor="middle">μm</text>
<text class="mr" x="1722.7" y="125.2" text-anchor="middle">–</text>
<text class="leg" x="1768.9" y="125.2" text-anchor="end">1</text>
<text class="mr" x="1785.0" y="125.2" textLength="123.8" lengthAdjust="spacingAndGlyphs">mrad</text>
<line x1="1349.5" y1="176.25" x2="1512.5" y2="176.25" stroke="#0000ff" stroke-width="11"/>
<text class="leg" x="1579.3" y="187.8" text-anchor="end">1</text>
<text class="it" x="1632.0" y="187.8" text-anchor="middle">μm</text>
<text class="mr" x="1694.2" y="187.8" text-anchor="middle">–</text>
<text class="leg" x="1747.9" y="187.8" text-anchor="middle">10</text>
<text class="mr" x="1785.0" y="187.8" textLength="123.8" lengthAdjust="spacingAndGlyphs">mrad</text>
<line x1="1349.5" y1="238.75" x2="1512.5" y2="238.75" stroke="#ff00ff" stroke-width="11"/>
<text class="leg" x="1570.8" y="255.9" text-anchor="middle">0</text>
<text class="it" x="1632.0" y="255.9" text-anchor="middle">μm</text>
<text class="mr" x="1694.2" y="255.9" text-anchor="middle">–</text>
<text class="leg" x="1740.5" y="255.9" text-anchor="end">1</text>
<text class="mr" x="1756.5" y="255.9" textLength="123.8" lengthAdjust="spacingAndGlyphs">mrad</text>
<line x1="1349.5" y1="300.75" x2="1512.5" y2="300.75" stroke="#00ffff" stroke-width="12.8"/>
<text class="leg" x="1570.8" y="318.1" text-anchor="middle">0</text>
<text class="it" x="1632.0" y="318.1" text-anchor="middle">μm</text>
<text class="mr" x="1694.2" y="318.1" text-anchor="middle">–</text>
<text class="leg" x="1747.9" y="318.1" text-anchor="middle">10</text>
<text class="mr" x="1785.0" y="318.1" textLength="123.8" lengthAdjust="spacingAndGlyphs">mrad</text>
<text class="tick" x="334.5" y="72.7" text-anchor="end">0</text>
<text class="tick" x="339.5" y="351.5" text-anchor="end">2000</text>
<text class="tick" x="339.5" y="630.2" text-anchor="end">4000</text>
<text class="tick" x="337" y="911.3" text-anchor="end">6000</text>
<text class="tick" x="339" y="1196.5" text-anchor="end">8000</text>
<text class="tick" x="345.5" y="1469.3" text-anchor="end">10,000</text>
<text class="tick" x="362.7" y="1525.7" text-anchor="middle">0</text>
<text class="tick" x="612.5" y="1528.7" text-anchor="middle">10</text>
<text class="tick" x="855.7" y="1527.2" text-anchor="middle">20</text>
<text class="tick" x="1111.8" y="1524.9" text-anchor="middle">30</text>
<text class="tick" x="1359" y="1524.9" text-anchor="middle">40</text>
<text class="tick" x="1618.7" y="1530.2" text-anchor="middle">50</text>
<text class="tick" x="1860.3" y="1525.5" text-anchor="middle">60</text>
<text class="tick" x="2111" y="1528.2" text-anchor="middle">70</text>
<text class="cap" x="997.8" y="1649.8" textLength="54.2" lengthAdjust="spacingAndGlyphs">R</text>
<text class="sub" x="1050.6" y="1665.6">0.68</text>
<text class="ttl" x="1176.4" y="1649.8" textLength="177" lengthAdjust="spacingAndGlyphs">(nm)</text>
<g transform="translate(97.6,935) rotate(-90)"><text class="cap" x="0" y="0" textLength="46" lengthAdjust="spacingAndGlyphs">Z</text><text class="ttl" x="61.5" y="0" textLength="174" lengthAdjust="spacingAndGlyphs">(nm)</text></g>
</svg>
</body>
</html>
